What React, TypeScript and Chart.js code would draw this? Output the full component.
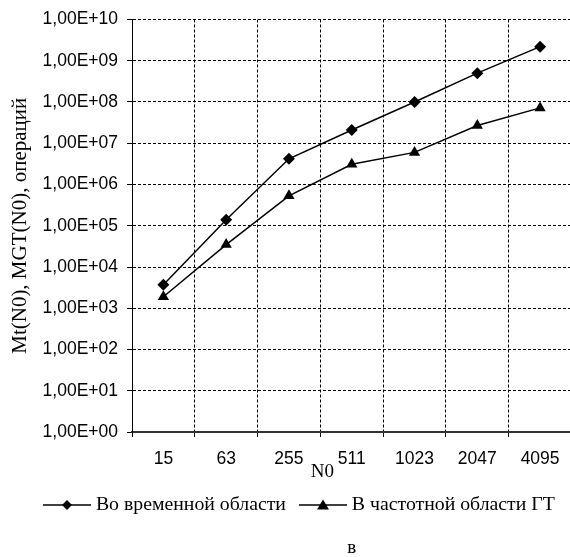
import React, { useEffect, useRef } from 'react';
import { Chart, registerables } from 'chart.js';

Chart.register(...registerables);

const categories = ['15', '63', '255', '511', '1023', '2047', '4095'];
const timeDomain = [3.7e3, 1.4e5, 4.2e6, 2.1e7, 1.0e8, 5.0e8, 2.2e9];
const freqDomain = [1.9e3, 3.5e4, 5.3e5, 3.1e6, 6.0e6, 2.7e7, 7.2e7];
const yTickValues = [1, 1e1, 1e2, 1e3, 1e4, 1e5, 1e6, 1e7, 1e8, 1e9, 1e10];
const yTickLabels = yTickValues.map((v) => '1,00E+' + String(Math.round(Math.log10(v))).padStart(2, '0'));
const seriesNames = ['Во временной области', 'В частотной области ГТ'];
const yTitle = 'Mt(N0), MGT(N0), операций';
const xTitle = 'N0';
const caption = 'в';

const SANS = 'Liberation Sans';
const SERIF = 'Liberation Serif';

function legendSymbol(kind: 'diamond' | 'triangle'): HTMLCanvasElement {
  const c = document.createElement('canvas');
  c.width = 48;
  c.height = 14;
  const g = c.getContext('2d')!;
  g.strokeStyle = '#000';
  g.fillStyle = '#000';
  g.lineWidth = 1.5;
  g.beginPath();
  g.moveTo(0, 7);
  g.lineTo(48, 7);
  g.stroke();
  g.beginPath();
  if (kind === 'diamond') {
    g.moveTo(24, 2);
    g.lineTo(29, 7);
    g.lineTo(24, 12);
    g.lineTo(19, 7);
  } else {
    g.moveTo(24, 1.5);
    g.lineTo(30, 11.5);
    g.lineTo(18, 11.5);
  }
  g.closePath();
  g.fill();
  return c;
}

const xTitlePlugin = {
  id: 'xTitleN0',
  afterDraw(chart: any) {
    const { ctx, chartArea } = chart;
    ctx.save();
    ctx.font = `19px "${SERIF}"`;
    ctx.fillStyle = '#000';
    ctx.textAlign = 'center';
    ctx.textBaseline = 'middle';
    ctx.fillText(xTitle, chartArea.left + (chartArea.right - chartArea.left) * 0.433, chartArea.bottom + 40);
    ctx.restore();
  },
};

export default function App() {
  const ref = useRef<HTMLCanvasElement>(null);
  useEffect(() => {
    document.body.style.margin = '0';
    document.body.style.overflow = 'hidden';
    const symbols = [legendSymbol('diamond'), legendSymbol('triangle')];
    const chart = new Chart(ref.current!, {
      type: 'line',
      data: {
        labels: categories,
        datasets: [
          {
            label: seriesNames[0],
            data: timeDomain,
            borderColor: '#000',
            backgroundColor: '#000',
            borderWidth: 1.5,
            pointStyle: 'rectRot',
            pointRadius: 6,
            pointBorderWidth: 0,
            tension: 0,
          },
          {
            label: seriesNames[1],
            data: freqDomain,
            borderColor: '#000',
            backgroundColor: '#000',
            borderWidth: 1.5,
            pointStyle: 'triangle',
            pointRadius: 6.5,
            pointBorderWidth: 0,
            tension: 0,
          },
        ],
      },
      options: {
        responsive: false,
        animation: false,
        layout: { padding: { left: 30, right: 3, top: 16, bottom: 0 } },
        scales: {
          x: {
            type: 'category',
            offset: true,
            grid: { offset: true, color: '#000', lineWidth: 1, tickLength: 5, tickColor: '#000', tickWidth: 1 },
            border: { display: true, color: '#333', width: 2, dash: [3, 2] },
            ticks: { font: { family: SANS, size: 17.5 }, color: '#000', padding: 11.5, maxRotation: 0, autoSkip: false },
            afterFit: (s: any) => {
              s.height = 45.1;
            },
          },
          y: {
            type: 'logarithmic',
            min: 1,
            max: 1e10,
            afterBuildTicks: (s: any) => {
              s.ticks = yTickValues.map((v) => ({ value: v }));
            },
            afterFit: (s: any) => {
              s.width = 102;
            },
            ticks: {
              autoSkip: false,
              font: { family: SANS, size: 17.5 },
              color: '#000',
              padding: 9,
              callback: (v: any) => yTickLabels[yTickValues.indexOf(Number(v))] ?? '',
            },
            grid: { color: '#000', lineWidth: 1, tickLength: 5, tickColor: '#000', tickWidth: 1 },
            border: { display: true, color: '#000', width: 1, dash: [3, 2] },
            title: {
              display: true,
              text: yTitle,
              font: { family: SERIF, size: 21 },
              color: '#000',
              padding: { top: -22.6, bottom: 0 },
            },
          },
        },
        plugins: {
          legend: {
            position: 'bottom',
            align: 'start',
            labels: {
              usePointStyle: true,
              pointStyleWidth: 38,
              boxHeight: 14,
              padding: 18,
              color: '#000',
              font: { family: SERIF, size: 19.8 },
              generateLabels: (ch: any) => {
                const items = Chart.defaults.plugins.legend.labels.generateLabels(ch);
                items.forEach((it: any, i: number) => {
                  it.pointStyle = symbols[i];
                });
                return items;
              },
            },
          },
          title: {
            display: true,
            text: caption,
            position: 'bottom',
            fullSize: false,
            color: '#000',
            font: { family: SERIF, size: 19, weight: 'normal' },
            padding: { top: 11.3, bottom: -2 },
          },
          tooltip: { enabled: false },
        },
      },
      plugins: [xTitlePlugin],
    } as any);
    return () => chart.destroy();
  }, []);
  return (
    <div style={{ position: 'absolute', left: 0, top: 0, width: 570, height: 557, overflow: 'hidden', background: '#fff' }}>
      <canvas ref={ref} width={578} height={557} />
    </div>
  );
}
